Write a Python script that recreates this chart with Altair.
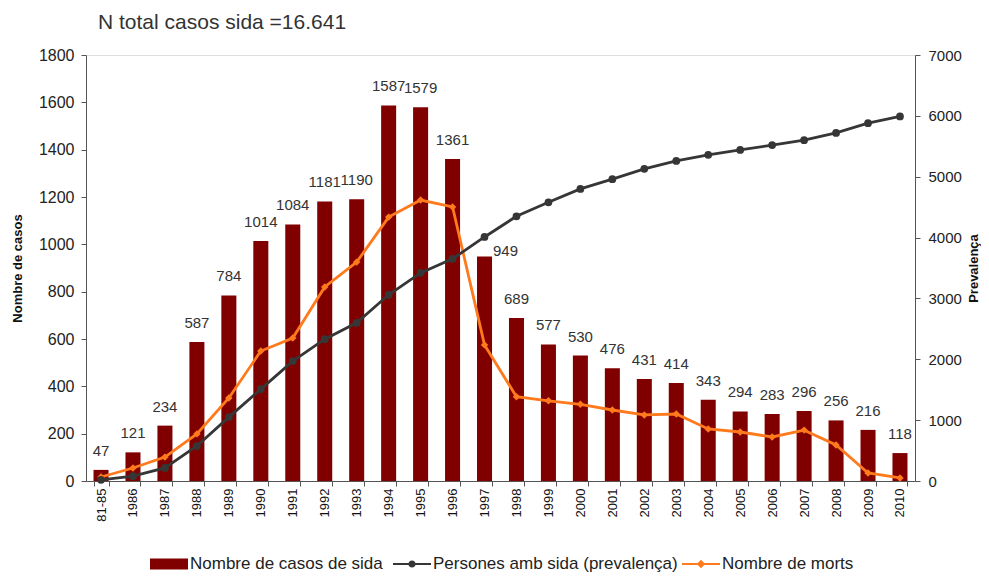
import altair as alt
import pandas as pd

periods = ["81-85", "1986", "1987", "1988", "1989", "1990", "1991", "1992", "1993",
           "1994", "1995", "1996", "1997", "1998", "1999", "2000", "2001", "2002",
           "2003", "2004", "2005", "2006", "2007", "2008", "2009", "2010"]
cases = [47, 121, 234, 587, 784, 1014, 1084, 1181, 1190, 1587, 1579, 1361, 949,
         689, 577, 530, 476, 431, 414, 343, 294, 283, 296, 256, 216, 118]
prevalence = [20, 80, 215, 575, 1050, 1510, 1970, 2330, 2600, 3060, 3420, 3650, 4010,
              4350, 4580, 4800, 4960, 5130, 5260, 5360, 5440, 5520, 5600, 5720, 5880, 5990]
deaths = [17, 55, 101, 199, 351, 549, 604, 820, 925, 1115, 1187, 1158, 575,
          356, 339, 324, 300, 279, 283, 220, 207, 186, 215, 152, 34, 13]

S_CASES = "Nombre de casos de sida"
S_PREV = "Persones amb sida (prevalença)"
S_DEATHS = "Nombre de morts"

BAR = "#800000"
DARK = "#363636"
ORANGE = "#FF7A1C"
FONT = "Liberation Sans"

df = pd.DataFrame({
    "period": periods, "cases": cases, "prev": prevalence, "deaths": deaths,
    "s_cases": S_CASES, "s_prev": S_PREV, "s_deaths": S_DEATHS,
})

x = alt.X("period:N", sort=periods, title=None,
          scale=alt.Scale(paddingInner=0.53, paddingOuter=0.235),
          axis=alt.Axis(labelAngle=270, tickBand="extent", tickSize=5, labelPadding=2,
                        labelFontSize=13, labelColor="#111", labelFont=FONT,
                        domainColor="#555", tickColor="#555", grid=False))

left_scale = alt.Scale(domain=[0, 1800])
right_scale = alt.Scale(domain=[0, 7000])

base = alt.Chart(df)


def legend(lx, symbol):
    return alt.Legend(title=None, orient="none", legendX=lx, legendY=490,
                      symbolType=symbol, symbolSize=1444, symbolStrokeWidth=0,
                      labelOffset=2, labelLimit=400, labelFontSize=17, labelFont=FONT,
                      labelColor="#222")


bars = base.mark_bar(stroke=None).encode(
    x=x,
    y=alt.Y("cases:Q", scale=left_scale,
            axis=alt.Axis(title="Nombre de casos", values=list(range(0, 1801, 200)),
                          format="d", grid=False, tickSize=5, labelPadding=7,
                          labelFontSize=16, labelColor="#222", labelFont=FONT,
                          domainColor="#555", tickColor="#555", titleFont=FONT,
                          titleFontSize=13, titleFontWeight="bold", titleColor="#111",
                          titlePadding=14)),
    color=alt.Color("s_cases:N", scale=alt.Scale(domain=[S_CASES], range=[BAR]),
                    legend=legend(64, "M-1,-0.29H1V0.29H-1Z")),
)

labels = base.mark_text(baseline="bottom", dy=-11, fontSize=15, font=FONT,
                        color="#333").encode(
    x=x,
    y=alt.Y("cases:Q", scale=left_scale, axis=None),
    text=alt.Text("cases:Q"),
).transform_filter(alt.datum.period != "1997")

label_1997 = base.mark_text(baseline="bottom", dx=21, dy=3, fontSize=15, font=FONT,
                            color="#333").encode(
    x=x,
    y=alt.Y("cases:Q", scale=left_scale, axis=None),
    text=alt.Text("cases:Q"),
).transform_filter(alt.datum.period == "1997")

death_line = base.mark_line(color=ORANGE, strokeWidth=2.8).encode(
    x=x, y=alt.Y("deaths:Q", scale=left_scale, axis=None))

death_pts = base.mark_point(filled=True, shape="diamond", size=55, opacity=1).encode(
    x=x, y=alt.Y("deaths:Q", scale=left_scale, axis=None),
    color=alt.Color("s_deaths:N", scale=alt.Scale(domain=[S_DEATHS], range=[ORANGE]),
                    legend=legend(596, "M-1,-0.05H1V0.05H-1Z M0,-0.22L0.22,0L0,0.22L-0.22,0Z")),
)

prev_line = base.mark_line(color=DARK, strokeWidth=2.8).encode(
    x=x,
    y=alt.Y("prev:Q", scale=right_scale,
            axis=alt.Axis(orient="right", title="Prevalença",
                          values=list(range(0, 7001, 1000)), format="d", grid=False,
                          tickSize=5, labelPadding=8, labelFontSize=15, labelColor="#222",
                          labelFont=FONT, domainColor="#555", tickColor="#555",
                          titleFont=FONT, titleFontSize=13, titleFontWeight="bold",
                          titleColor="#111", titleAngle=270, titlePadding=19)))

prev_pts = base.mark_point(filled=True, shape="circle", size=60, opacity=1).encode(
    x=x, y=alt.Y("prev:Q", scale=right_scale, axis=None),
    color=alt.Color("s_prev:N", scale=alt.Scale(domain=[S_PREV], range=[DARK]),
                    legend=legend(307, "M-1,-0.05H1V0.05H-1Z M0.19,0A0.19,0.19 0 1,1 -0.19,0A0.19,0.19 0 1,1 0.19,0Z")),
)

chart = alt.layer(
    bars, labels, label_1997, death_line, death_pts, prev_line, prev_pts
).resolve_scale(
    y="independent", color="independent"
).properties(
    width=829, height=426,
    autosize=alt.AutoSizeParams(type="none"),
    padding={"left": 78, "top": 47, "right": 66, "bottom": 95},
    title=alt.TitleParams("N total casos sida =16.641", anchor="start", frame="group",
                          dx=12, offset=14, fontSize=21, font=FONT, fontWeight="normal",
                          color="#333"),
).configure_view(
    stroke="#c4c4c4", strokeWidth=2
).configure(background="white")

chart.save("out.html", embed_options={"renderer": "svg", "actions": False})
